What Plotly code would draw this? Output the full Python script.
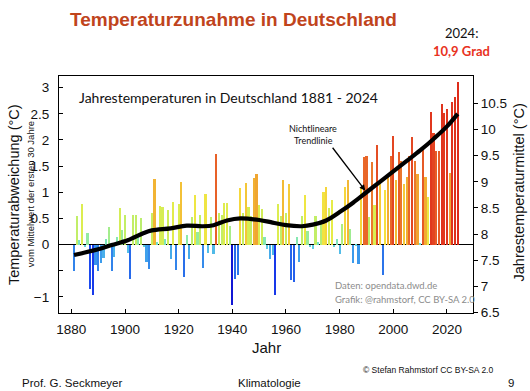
import plotly.graph_objects as go

# ---------------- data ----------------
years = list(range(1881, 2025))
anomaly = [
    -0.50, 0.54, 0.08, 0.77, -0.05, 0.22, -0.86, -0.96, -0.40, -0.50,   # 1881-1890
    -0.35, -0.25, 0.10, 0.33, -0.50, -0.24, 0.15, 0.70, 0.28, 0.56,     # 1891-1900
    -0.17, -0.65, 0.56, 0.56, 0.20, 0.50, -0.05, -0.33, -0.46, 0.61,    # 1901-1910
    1.26, 0.05, 0.73, 0.72, 0.11, 0.66, -0.27, 0.82, -0.49, 0.77,       # 1911-1920
    1.20, -0.62, 0.19, -0.28, 0.53, 0.95, 0.24, 0.56, -0.45, 0.96,      # 1921-1930
    -0.17, 0.53, -0.19, 1.74, 0.61, 0.56, 0.79, 0.80, 0.35, -1.16,      # 1931-1940
    -0.65, -0.58, 1.09, 0.60, 1.17, 0.72, 0.55, 1.28, 1.34, 0.76,       # 1941-1950
    0.68, 0.14, -0.09, -0.27, -0.20, -0.97, 0.77, 0.55, 1.23, 0.60,     # 1951-1960
    1.15, -0.68, -0.72, 0.15, -0.33, 0.55, 0.95, 0.25, -0.05, -0.08,    # 1961-1970
    0.55, 0.05, 0.45, 1.00, 1.10, 0.70, 0.85, -0.05, 0.10, -0.18,      # 1971-1980
    0.40, 1.10, 1.24, 0.30, -0.36, -0.03, -0.38, 1.10, 1.68, 1.70,      # 1981-1990
    0.53, 1.58, 0.75, 1.90, 1.15, -0.59, 1.04, 1.30, 1.70, 2.07,        # 1991-2000
    1.23, 1.77, 1.60, 1.16, 1.30, 1.70, 2.05, 1.60, 1.35, 0.02,         # 2001-2010
    1.80, 1.30, 0.91, 2.53, 2.13, 1.78, 1.79, 2.68, 2.52, 2.60,         # 2011-2020
    1.36, 2.73, 2.82, 3.10,                                             # 2021-2024
]
trend_years = [1881, 1890, 1895, 1901, 1907, 1910, 1917, 1923, 1929, 1933, 1938,
               1943, 1950, 1955, 1960, 1966, 1970, 1975, 1980, 1985, 1990, 1995,
               2000, 2005, 2010, 2015, 2020, 2024]
trend_vals = [-0.20, -0.09, -0.01, 0.08, 0.22, 0.27, 0.31, 0.36, 0.35, 0.37, 0.46,
              0.50, 0.47, 0.42, 0.37, 0.35, 0.38, 0.46, 0.62, 0.80, 1.00, 1.20,
              1.40, 1.60, 1.80, 2.02, 2.26, 2.50]

x_ticks = [1880, 1900, 1920, 1940, 1960, 1980, 2000, 2020]
left_ticks = [-1, -0.5, 0, 0.5, 1, 1.5, 2, 2.5, 3]
left_tick_text = ["\u22121", "", "0", "0.5", "1", "1.5", "2", "2.5", "3"]
right_ticks = [6.5, 7, 7.5, 8, 8.5, 9, 9.5, 10, 10.5]
right_tick_text = ["6.5", "7", "7.5", "8", "8.5", "9", "9.5", "10", "10.5"]
BASE = 7.8  # mean of first 30 years (°C)

# ---------------- layout geometry ----------------
W, H = 530, 391
PL, PR, PT, PB = 59, 472.7, 76, 312.7
XR = [1875.4, 2029.7]
YR = [-1.31, 3.224]


def px(x):
    return (x - PL) / (PR - PL)


def py(y):
    return (PB - y) / (PB - PT)


CAL = "Lato, Carlito, 'Liberation Sans', sans-serif"
ARI = "'Liberation Sans', Arial, sans-serif"

colorscale = [
    [0.0000, "#1010d0"],
    [0.0698, "#1a44f0"],
    [0.1395, "#2a72ea"],
    [0.1977, "#3c9cec"],
    [0.2558, "#5ccbe6"],
    [0.2907, "#74e4c8"],
    [0.3372, "#98ec9a"],
    [0.4070, "#c2ee66"],
    [0.4767, "#e6ec48"],
    [0.5233, "#f6e03e"],
    [0.5698, "#f2b634"],
    [0.6163, "#ee9230"],
    [0.6628, "#ea6c2a"],
    [0.7209, "#e44e24"],
    [0.8140, "#e23c20"],
    [1.0000, "#de2c1a"],
]

fig = go.Figure()
fig.add_trace(go.Bar(
    x=years, y=anomaly, width=0.8,
    marker=dict(color=anomaly, colorscale=colorscale, cmin=-1.2, cmax=3.1,
                line=dict(width=0)),
    showlegend=False, hoverinfo="x+y",
))
fig.add_trace(go.Scatter(
    x=trend_years, y=trend_vals, mode="lines",
    line=dict(color="black", width=4.2, shape="spline", smoothing=1.0),
    showlegend=False, hoverinfo="skip",
))
# invisible trace so that the right-hand axis is drawn
fig.add_trace(go.Scatter(x=[years[0]], y=[None], yaxis="y2", mode="markers",
                         showlegend=False, hoverinfo="skip"))

ann = []


def text(x, y, s, size, color="black", font=ARI, xanchor="center", angle=0, bold=False):
    ann.append(dict(
        x=px(x), y=py(y), xref="paper", yref="paper", text=("<b>%s</b>" % s) if bold else s,
        showarrow=False, xanchor=xanchor, yanchor="middle", textangle=angle,
        font=dict(size=size, color=color, family=font),
    ))


text(233, 20, "Temperaturzunahme in Deutschland", 19, "#c0441c", ARI, bold=True)
text(461, 33, "2024:", 13, "#111111", CAL)
text(461, 51, "10,9 Grad", 13, "#e8321e", CAL, bold=True)
text(77, 97, "Jahrestemperaturen in Deutschland 1881 - 2024", 14, "#111111", CAL, xanchor="left")
text(313, 128, "Nichtlineare", 9, "#111111", CAL)
text(313, 140, "Trendlinie", 9, "#111111", CAL)
text(333, 285, "Daten: opendata.dwd.de", 9.5, "#8c8c8c", CAL, xanchor="left")
text(333, 299, "Grafik: @rahmstorf, CC BY-SA 2.0", 9.5, "#8c8c8c", CAL, xanchor="left")
text(14, 194, "Temperaturabweichung (°C)", 14.5, "#111111", ARI, angle=-90)
text(30, 194, "vom Mittelwert der ersten 30 Jahre", 9.5, "#111111", ARI, angle=-90)
text(519, 192, "Jahrestemperaturmittel (°C)", 14.5, "#111111", ARI, angle=-90)
text(266, 347, "Jahr", 15, "#111111", ARI)
text(428, 370, "© Stefan Rahmstorf CC BY-SA 2.0", 8.5, "#111111", ARI)
text(72, 383, "Prof. G. Seckmeyer", 11.5, "#111111", ARI)
text(269, 383, "Klimatologie", 11.5, "#111111", ARI)
text(511, 383, "9", 11.5, "#111111", ARI)

# arrow from label to the trend line
arrow_year = 1990
ann.append(dict(
    x=arrow_year, y=trend_vals[trend_years.index(arrow_year)], xref="x", yref="y",
    ax=-35, ay=-46, axref="pixel", ayref="pixel", text="", showarrow=True,
    arrowhead=2, arrowsize=0.9, arrowwidth=1.3, arrowcolor="black", standoff=2,
))

fig.update_layout(
    width=W, height=H,
    margin=dict(l=PL, r=W - PR, t=PT, b=H - PB, autoexpand=False),
    paper_bgcolor="white", plot_bgcolor="white",
    bargap=0, showlegend=False, annotations=ann,
    xaxis=dict(range=XR, tickvals=x_ticks, ticks="inside", ticklen=4, tickwidth=1,
               tickcolor="black", showline=True, linecolor="black", linewidth=1.2,
               mirror=True, showgrid=False, zeroline=False,
               tickfont=dict(size=13.5, family=ARI, color="#111111"),
               ticklabelstandoff=4),
    yaxis=dict(range=YR, tickvals=left_ticks, ticktext=left_tick_text, ticks="inside",
               ticklen=4, tickwidth=1, tickcolor="black", showline=True,
               linecolor="black", linewidth=1.2, showgrid=False,
               zeroline=True, zerolinecolor="black", zerolinewidth=1.2,
               tickfont=dict(size=13.5, family=ARI, color="#111111"),
               ticklabelstandoff=6),
    yaxis2=dict(range=[YR[0] + BASE, YR[1] + BASE], tickvals=right_ticks,
                ticktext=right_tick_text, overlaying="y", side="right",
                ticks="outside", ticklen=4, tickwidth=1, tickcolor="black",
                showline=True, linecolor="black", linewidth=1.2, showgrid=False,
                zeroline=False, tickfont=dict(size=13.5, family=ARI, color="#111111")),
)

fig.write_html("out.html", config={"displayModeBar": False},
               post_script="document.body.style.margin='0';")
